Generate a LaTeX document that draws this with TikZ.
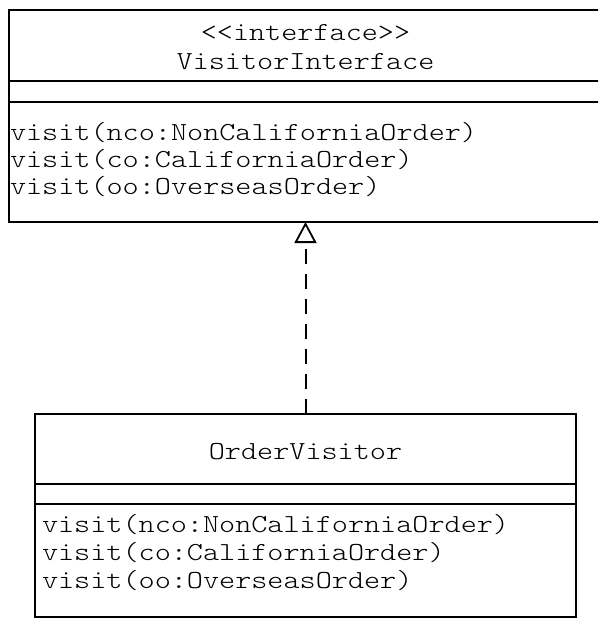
\documentclass[tikz,border=0pt]{standalone}
\usetikzlibrary{arrows.meta}
\newcommand\umlfont{\fontfamily{lmtt}\fontseries{l}\fontsize{26}{27}\selectfont}
\newcommand\umlstr[1]{\scalebox{1.18}[1]{#1}}
\begin{document}
\begin{tikzpicture}[x=1pt,y=-1pt,
  classbox/.style={draw, line width=1.8pt, outer sep=0pt, inner sep=0pt, anchor=north west},
  divider/.style={line width=1.8pt},
  txt/.style={inner sep=0pt, outer sep=0pt, font=\umlfont},
  realize/.style={line width=2pt, dash pattern=on 15pt off 10pt,
    -{Triangle[open, length=21pt, width=22pt, line width=1.8pt]}}]
\useasboundingbox (0,0) rectangle (598,618);
\clip (0,0) rectangle (598,618);
% top class
\node[classbox, minimum width=593pt, minimum height=212pt] (iface) at (9,10) {};
\draw[divider] (9,81) -- (602,81);
\draw[divider] (9,102) -- (602,102);
\node[txt] (st) at (305.5,33) {\umlstr{<{}<interface>{}>}};
\node[txt] (in) at (305.5,62) {\umlstr{VisitorInterface}};
\node[txt, anchor=west] (m1) at (10,133) {\umlstr{visit(nco:NonCaliforniaOrder)}};
\node[txt, anchor=west] (m2) at (10,160) {\umlstr{visit(co:CaliforniaOrder)}};
\node[txt, anchor=west] (m3) at (10,187) {\umlstr{visit(oo:OverseasOrder)}};
% bottom class
\node[classbox, minimum width=541pt, minimum height=203pt] (ov) at (35,414) {};
\draw[divider] (35,484) -- (576,484);
\draw[divider] (35,504) -- (576,504);
\node[txt] (on) at (305.5,452) {\umlstr{OrderVisitor}};
\node[txt, anchor=west] (n1) at (42,525) {\umlstr{visit(nco:NonCaliforniaOrder)}};
\node[txt, anchor=west] (n2) at (42,553) {\umlstr{visit(co:CaliforniaOrder)}};
\node[txt, anchor=west] (n3) at (42,581) {\umlstr{visit(oo:OverseasOrder)}};
% realization
\draw[realize] (ov.north) -- (iface.south);
\end{tikzpicture}
\end{document}
